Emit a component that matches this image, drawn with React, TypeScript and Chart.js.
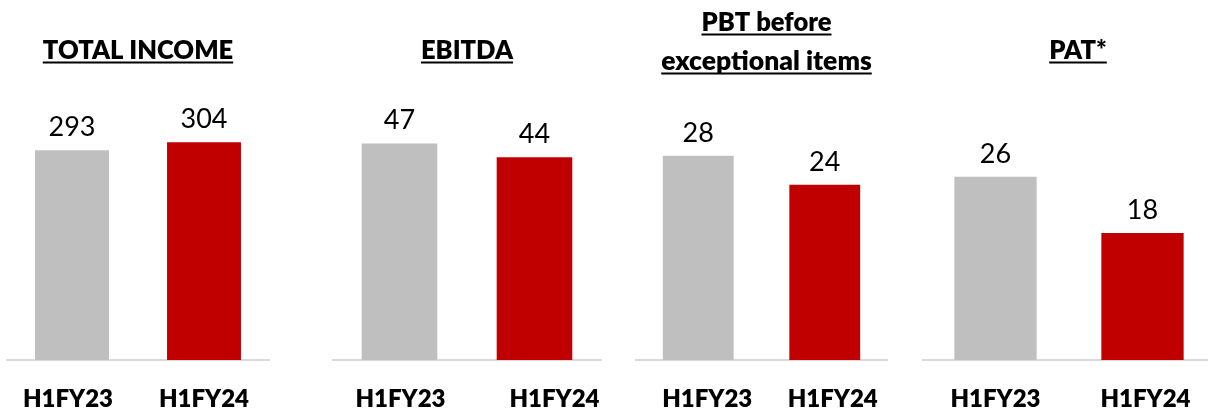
import React, { useEffect, useRef } from "react";
import { Chart, registerables } from "chart.js";

Chart.register(...registerables);

// ---- data ----
const categories = ["H1FY23", "H1FY24"];
const totalIncome = [293, 304];
const ebitda = [47, 44];
const pbtBeforeExceptional = [28, 24];
const pat = [26, 18];
const titleTotalIncome = ["TOTAL INCOME"];
const titleEbitda = ["EBITDA"];
const titlePbt = ["PBT before", "exceptional items"];
const titlePat = ["PAT*"];

const barColors = ["#BFBFBF", "#C00000"];
const FONT = "Lato, 'Open Sans', sans-serif";
const BOLD_WEIGHT = 800;

type PanelCfg = {
  values: number[];
  title: string[];
  left: number;
  width: number;
  yMax: number;
  titleDx: number;
  titleSize: number[];
  titleBaselines: number[];
  labelDx: number[];
};

const panels: PanelCfg[] = [
  { values: totalIncome, title: titleTotalIncome, left: 6, width: 264, yMax: 377, titleDx: 0, titleSize: [25.5], titleBaselines: [59], labelDx: [-4, 0] },
  { values: ebitda, title: titleEbitda, left: 332, width: 270, yMax: 58.6, titleDx: 0, titleSize: [25.5], titleBaselines: [59], labelDx: [1, 20] },
  { values: pbtBeforeExceptional, title: titlePbt, left: 635, width: 253, yMax: 37, titleDx: 5, titleSize: [25.5, 26.5], titleBaselines: [31, 70], labelDx: [9, 8] },
  { values: pat, title: titlePat, left: 922, width: 294, yMax: 38.3, titleDx: 9, titleSize: [25.5], titleBaselines: [59], labelDx: [0, 3] },
];

function Panel({ cfg }: { cfg: PanelCfg }) {
  const ref = useRef<HTMLCanvasElement | null>(null);

  useEffect(() => {
    const canvas = ref.current;
    if (!canvas) return;

    const titlePlugin = {
      id: "panelTitle",
      afterDraw(chart: any) {
        const ctx = chart.ctx;
        const ca = chart.chartArea;
        const cx = (ca.left + ca.right) / 2 + cfg.titleDx;
        ctx.save();
        ctx.fillStyle = "#000000";
        ctx.textAlign = "center";
        ctx.textBaseline = "alphabetic";
        cfg.title.forEach((line, i) => {
          ctx.font = `${BOLD_WEIGHT} ${cfg.titleSize[i]}px ${FONT}`;
          const y = cfg.titleBaselines[i];
          ctx.fillText(line, cx, y);
          const w = ctx.measureText(line).width;
          ctx.fillRect(cx - w / 2, y + 2.5, w, 2);
        });
        ctx.restore();
      },
    };

    const categoryLabelPlugin = {
      id: "categoryLabels",
      afterDraw(chart: any) {
        const ctx = chart.ctx;
        const xScale = chart.scales.x;
        const ca = chart.chartArea;
        ctx.save();
        ctx.fillStyle = "#000000";
        ctx.font = `${BOLD_WEIGHT} 24px ${FONT}`;
        ctx.textAlign = "center";
        ctx.textBaseline = "alphabetic";
        (chart.data.labels as string[]).forEach((lab, i) => {
          ctx.fillText(lab, xScale.getPixelForValue(i) + cfg.labelDx[i], ca.bottom + 47);
        });
        ctx.restore();
      },
    };

    const valueLabelPlugin = {
      id: "valueLabels",
      afterDatasetsDraw(chart: any) {
        const ctx = chart.ctx;
        const meta = chart.getDatasetMeta(0);
        const data = chart.data.datasets[0].data as number[];
        ctx.save();
        ctx.fillStyle = "#000000";
        ctx.font = `27px ${FONT}`;
        ctx.textAlign = "center";
        ctx.textBaseline = "alphabetic";
        meta.data.forEach((bar: any, i: number) => {
          ctx.fillText(String(data[i]), bar.x, bar.y - 14);
        });
        ctx.restore();
      },
    };

    const chart = new Chart(canvas, {
      type: "bar",
      data: {
        labels: categories,
        datasets: [
          {
            data: cfg.values,
            backgroundColor: barColors,
            borderWidth: 0,
            barPercentage: 0.56,
            categoryPercentage: 1,
          },
        ],
      },
      options: {
        responsive: false,
        animation: false,
        layout: { padding: { top: 90, left: 0, right: 0, bottom: 52 } },
        plugins: {
          legend: { display: false },
          title: { display: false },
          tooltip: { enabled: false },
        },
        scales: {
          x: {
            grid: { display: false, drawTicks: false },
            border: { display: true, color: "#D9D9D9", width: 2 },
            ticks: { display: false },
          },
          y: {
            display: false,
            min: 0,
            max: cfg.yMax,
          },
        },
      },
      plugins: [titlePlugin, valueLabelPlugin, categoryLabelPlugin],
    });

    return () => chart.destroy();
  }, [cfg]);

  return (
    <canvas
      ref={ref}
      width={cfg.width}
      height={412}
      style={{ position: "absolute", left: cfg.left, top: 0 }}
    />
  );
}

export default function App() {
  return (
    <div
      style={{
        position: "absolute",
        left: 0,
        top: 0,
        width: 1208,
        height: 412,
        overflow: "hidden",
        background: "#FFFFFF",
      }}
    >
      {panels.map((p, i) => (
        <Panel key={i} cfg={p} />
      ))}
    </div>
  );
}
